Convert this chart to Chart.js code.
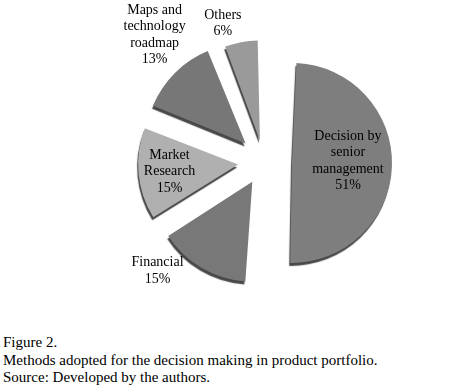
<!DOCTYPE html>
<html>
<head>
<meta charset="utf-8">
<script src="https://cdn.jsdelivr.net/npm/chart.js"></script>
<style>
  body { margin: 0; background: #fff; }
  #wrap { position: relative; width: 464px; height: 391px; }
  #box { position: absolute; left: 0; top: 0; width: 464px; height: 330px; }
  #caption {
    position: absolute; left: 3px; top: 334px;
    font-family: "Liberation Serif", "DejaVu Serif", serif;
    font-size: 15px; line-height: 17.5px; color: #000;
  }
</style>
</head>
<body>
<div id="wrap">
  <div id="box"><canvas id="pieChart"></canvas></div>
  <div id="caption">
    Figure 2.<br>
    Methods adopted for the decision making in product portfolio.<br>
    Source: Developed by the authors.
  </div>
</div>
<script>
// данные
const categories = ['Decision by senior management', 'Financial', 'Market Research', 'Maps and technology roadmap', 'Others'];
const labelLines = [
  ['Decision by', 'senior', 'management'],
  ['Financial'],
  ['Market', 'Research'],
  ['Maps and', 'technology', 'roadmap'],
  ['Others']
];
const shares = [51, 15, 15, 13, 6];
const sliceColors = ['#7e7e7e', '#787878', '#b0b0b0', '#777777', '#9a9a9a'];
// Chart.js v4 сдвигает сектор на offset / 4
const sliceOffsets = [112, 92, 104, 104, 88];
// где ставить подпись: доля угла внутри сектора и расстояние (в радиусах)
const labelPos = [[0.48, 0.56], [0.80, 1.30], [0.49, 0.69], [0.61, 1.42], [0.19, 1.23]];
const pieRadius = 100;

// в v4 сдвинутый сектор ещё и растёт — возвращаем одинаковый радиус
const radiusFix = {
  id: 'radiusFix',
  beforeDatasetsDraw(chart) {
    chart.getDatasetMeta(0).data.forEach(arc => {
      const off = (arc.options.offset || 0) / 4;
      const fix = 1 - Math.sin(Math.min(Math.PI, arc.circumference || 0));
      arc.outerRadius = pieRadius - off * fix;
    });
  }
};

// тень снизу, чтобы было похоже на объём
const shadowPlugin = {
  id: 'shadow',
  beforeDatasetsDraw(chart) {
    const ctx = chart.ctx;
    ctx.save();
    ctx.shadowColor = 'rgba(40,40,40,0.85)';
    ctx.shadowOffsetX = -1;
    ctx.shadowOffsetY = 3;
    ctx.shadowBlur = 1;
  },
  afterDatasetsDraw(chart) {
    chart.ctx.restore();
  }
};

// подписи секторов
const labelPlugin = {
  id: 'sliceLabels',
  afterDatasetsDraw(chart) {
    const ctx = chart.ctx;
    const meta = chart.getDatasetMeta(0);
    ctx.save();
    ctx.font = '14px "Liberation Serif", serif';
    ctx.fillStyle = '#000';
    ctx.textAlign = 'center';
    ctx.textBaseline = 'middle';
    meta.data.forEach((arc, i) => {
      const p = arc.getProps(['x', 'y', 'startAngle', 'endAngle'], true);
      const mid = (p.startAngle + p.endAngle) / 2;
      const shift = (arc.options.offset || 0) / 4;
      const cx = p.x + Math.cos(mid) * shift;
      const cy = p.y + Math.sin(mid) * shift;
      const a = p.startAngle + (p.endAngle - p.startAngle) * labelPos[i][0];
      const r = pieRadius * labelPos[i][1];
      const lines = labelLines[i].concat([shares[i] + '%']);
      const x = cx + Math.cos(a) * r;
      const y0 = cy + Math.sin(a) * r - (lines.length - 1) * 16.5 / 2;
      lines.forEach((t, k) => ctx.fillText(t, x, y0 + k * 16.5));
    });
    ctx.restore();
  }
};

let ctx = document.querySelector('#pieChart').getContext('2d');

let myChart = new Chart(ctx, {
  type: 'pie',
  data: {
    labels: categories,
    datasets: [{
      data: shares,
      backgroundColor: sliceColors,
      offset: sliceOffsets,
      borderWidth: 0,
    }]
  },
  options: {
    responsive: true,
    maintainAspectRatio: false,
    animation: false,
    radius: pieRadius,
    layout: { padding: { left: 64, right: 0, top: 0, bottom: 6 } },
    plugins: {
      legend: { display: false },
      tooltip: { enabled: false },
    }
  },
  plugins: [radiusFix, shadowPlugin, labelPlugin]
});
</script>
</body>
</html>
